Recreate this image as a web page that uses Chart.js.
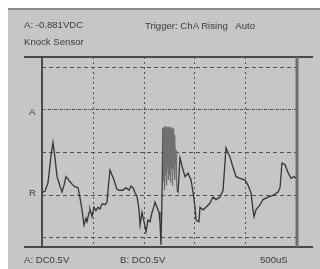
<!DOCTYPE html>
<html>
<head>
<meta charset="utf-8">
<script src="https://cdn.jsdelivr.net/npm/chart.js@4.4.0/dist/chart.umd.min.js"></script>
<style>
    body { margin: 0; background: #fff; }
    #scope { position: absolute; left: 0; top: 0; width: 320px; height: 269px; filter: blur(0.6px); }
    #panel { position: absolute; left: 8px; top: 8px; width: 312px; height: 261px; background: #c6c6c6;
             border-top: 2px solid #8e8e8e; box-sizing: border-box; }
    #chart { position: absolute; left: 0; top: 0; }
    .lbl { position: absolute; font: 9.6px "Liberation Sans", Arial, sans-serif; color: #3c3c3c;
           line-height: 12px; white-space: pre; }
</style>
</head>
<body>
<div id="scope">
    <div id="panel"></div>
    <canvas id="chart" width="320" height="269"></canvas>
    <div class="lbl" style="left:24px;top:19px">A: -0.881VDC</div>
    <div class="lbl" style="left:24px;top:36px">Knock Sensor</div>
    <div class="lbl" style="left:145px;top:20px">Trigger: ChA Rising   Auto</div>
    <div class="lbl" style="left:29px;top:106px">A</div>
    <div class="lbl" style="left:29px;top:187px">R</div>
    <div class="lbl" style="left:24px;top:254px">A: DC0.5V</div>
    <div class="lbl" style="left:120px;top:254px">B: DC0.5V</div>
    <div class="lbl" style="left:260px;top:254px">500uS</div>
</div>
<script>
// time base: 500uS/div, 5 divisions
var timeUs = [
    0, 30, 59, 89, 108, 128, 148, 177, 197, 217, 236, 256, 276, 305, 325, 354,
    374, 394, 413, 433, 443, 463, 472, 492, 512, 531, 551, 571, 591, 620, 640,
    659, 669, 689, 709, 738, 768, 797, 827, 856, 876, 896, 915, 935, 955, 965,
    984, 1004, 1024, 1043, 1063, 1083, 1102, 1112, 1132, 1152, 1161, 1171, 1181,
    // knock burst
    1191, 1196, 1201, 1206, 1211, 1216, 1221, 1226, 1231, 1236, 1241, 1245, 1250, 1255,
    1260, 1265, 1270, 1275, 1280, 1285, 1290, 1295, 1300, 1304, 1309, 1314, 1319, 1324,
    1329, 1339, 1358, 1388, 1408, 1437, 1467, 1486, 1506, 1516, 1545, 1555, 1585, 1614,
    1654, 1683, 1713, 1752, 1782, 1811, 1850, 1880, 1910, 1949, 1998, 2028, 2057, 2077,
    2087, 2106, 2146, 2175, 2224, 2274, 2323, 2343, 2362, 2392, 2421, 2451, 2480, 2500
];
// channel A volts (0.5V/div)
var voltsA = [
    -0.98, -0.96, -0.86, -0.54, -0.39, -0.57, -0.79, -0.90, -0.97, -0.89, -0.79, -0.82, -0.85, -0.89, -0.91, -0.92,
    -1.04, -1.18, -1.36, -1.28, -1.32, -1.21, -1.17, -1.26, -1.15, -1.19, -1.15, -1.17, -1.11, -1.12, -1.09,
    -0.83, -0.71, -0.77, -0.83, -0.94, -0.95, -0.95, -0.92, -0.95, -0.90, -0.92, -0.98, -1.02, -1.18, -1.36,
    -1.21, -1.32, -1.44, -1.30, -1.32, -1.21, -1.14, -1.09, -1.15, -1.21, -1.32, -1.59, -1.06,
    -0.22, -0.85, -0.20, -0.95, -0.21, -0.78, -0.20, -0.89, -0.22, -0.71, -0.20, -0.83, -0.23, -0.77,
    -0.21, -0.86, -0.21, -0.69, -0.24, -0.90, -0.22, -0.71, -0.30, -0.83, -0.36, -0.65, -0.48, -0.81,
    -0.95, -0.97, -0.57, -0.71, -0.79, -0.75, -0.83, -0.97, -1.15, -1.30, -1.32, -1.15, -1.18, -1.15,
    -1.10, -1.03, -1.06, -1.03, -0.95, -0.45, -0.56, -0.68, -0.79, -0.81, -0.83, -0.89, -0.98, -1.18,
    -1.26, -1.18, -1.12, -1.06, -1.03, -1.01, -0.97, -0.92, -0.63, -0.65, -0.74, -0.81, -0.79, -0.81
];
var burstUs = [1188, 1326];
var gridTimeUs = [500, 1000, 1500, 2000];
var gridVolts = [0.5, -0.5, -1.0, -1.5];
var markerA = 0;   // channel A zero level

var points = timeUs.map(function(t, i) { return { x: t, y: voltsA[i] }; });

// Oscilloscope graticule and frame
var graticule = {
    id: 'graticule',
    beforeDatasetsDraw: function(chart) {
        var ctx = chart.ctx;
        var a = chart.chartArea;
        var xs = chart.scales.x, ys = chart.scales.y;
        ctx.save();
        ctx.strokeStyle = '#505050';
        ctx.lineWidth = 1;

        // vertical dotted lines
        ctx.setLineDash([2, 3]);
        gridTimeUs.forEach(function(t) {
            var px = Math.round(xs.getPixelForValue(t)) + 0.5;
            ctx.beginPath();
            ctx.moveTo(px, a.top);
            ctx.lineTo(px, a.bottom);
            ctx.stroke();
        });

        // horizontal dashed lines
        ctx.setLineDash([4, 3]);
        gridVolts.forEach(function(v) {
            var py = Math.round(ys.getPixelForValue(v)) + 0.5;
            ctx.beginPath();
            ctx.moveTo(a.left, py);
            ctx.lineTo(a.right, py);
            ctx.stroke();
        });

        // channel A marker line
        ctx.setLineDash([3, 1, 1, 1]);
        var pyA = Math.round(ys.getPixelForValue(markerA)) + 0.5;
        ctx.beginPath();
        ctx.moveTo(a.left, pyA);
        ctx.lineTo(a.right, pyA);
        ctx.stroke();

        // frame
        ctx.setLineDash([]);
        ctx.strokeStyle = '#4a4a4a';
        ctx.lineWidth = 2;
        ctx.beginPath();
        ctx.moveTo(a.left - 18, a.top);
        ctx.lineTo(a.right + 17, a.top);
        ctx.moveTo(a.left - 18, a.bottom);
        ctx.lineTo(a.right + 17, a.bottom);
        ctx.moveTo(a.left, a.top);
        ctx.lineTo(a.left, a.bottom);
        ctx.stroke();
        ctx.strokeStyle = '#6e6e6e';
        ctx.lineWidth = 3;
        ctx.beginPath();
        ctx.moveTo(a.right + 1, a.top);
        ctx.lineTo(a.right + 1, a.bottom);
        ctx.stroke();
        ctx.restore();
    }
};

var chart = new Chart(document.getElementById('chart'), {
    type: 'line',
    data: {
        datasets: [{
            data: points,
            borderColor: '#353535',
            borderWidth: 1.3,
            pointRadius: 0,
            tension: 0,
            segment: {
                // the knock burst shows as a grey smear on the scope
                borderColor: function(ctx) {
                    var t = ctx.p0.parsed.x;
                    return (t >= burstUs[0] && t < burstUs[1]) ? '#707070' : undefined;
                }
            }
        }]
    },
    options: {
        responsive: false,
        animation: false,
        devicePixelRatio: 1,
        layout: { padding: { left: 42, right: 24, top: 57, bottom: 22 } },
        plugins: { legend: { display: false }, tooltip: { enabled: false } },
        scales: {
            x: { type: 'linear', display: false, min: 0, max: 2500 },
            y: { type: 'linear', display: false, min: -1.6176, max: 0.6176 }
        }
    },
    plugins: [graticule]
});
</script>
</body>
</html>
